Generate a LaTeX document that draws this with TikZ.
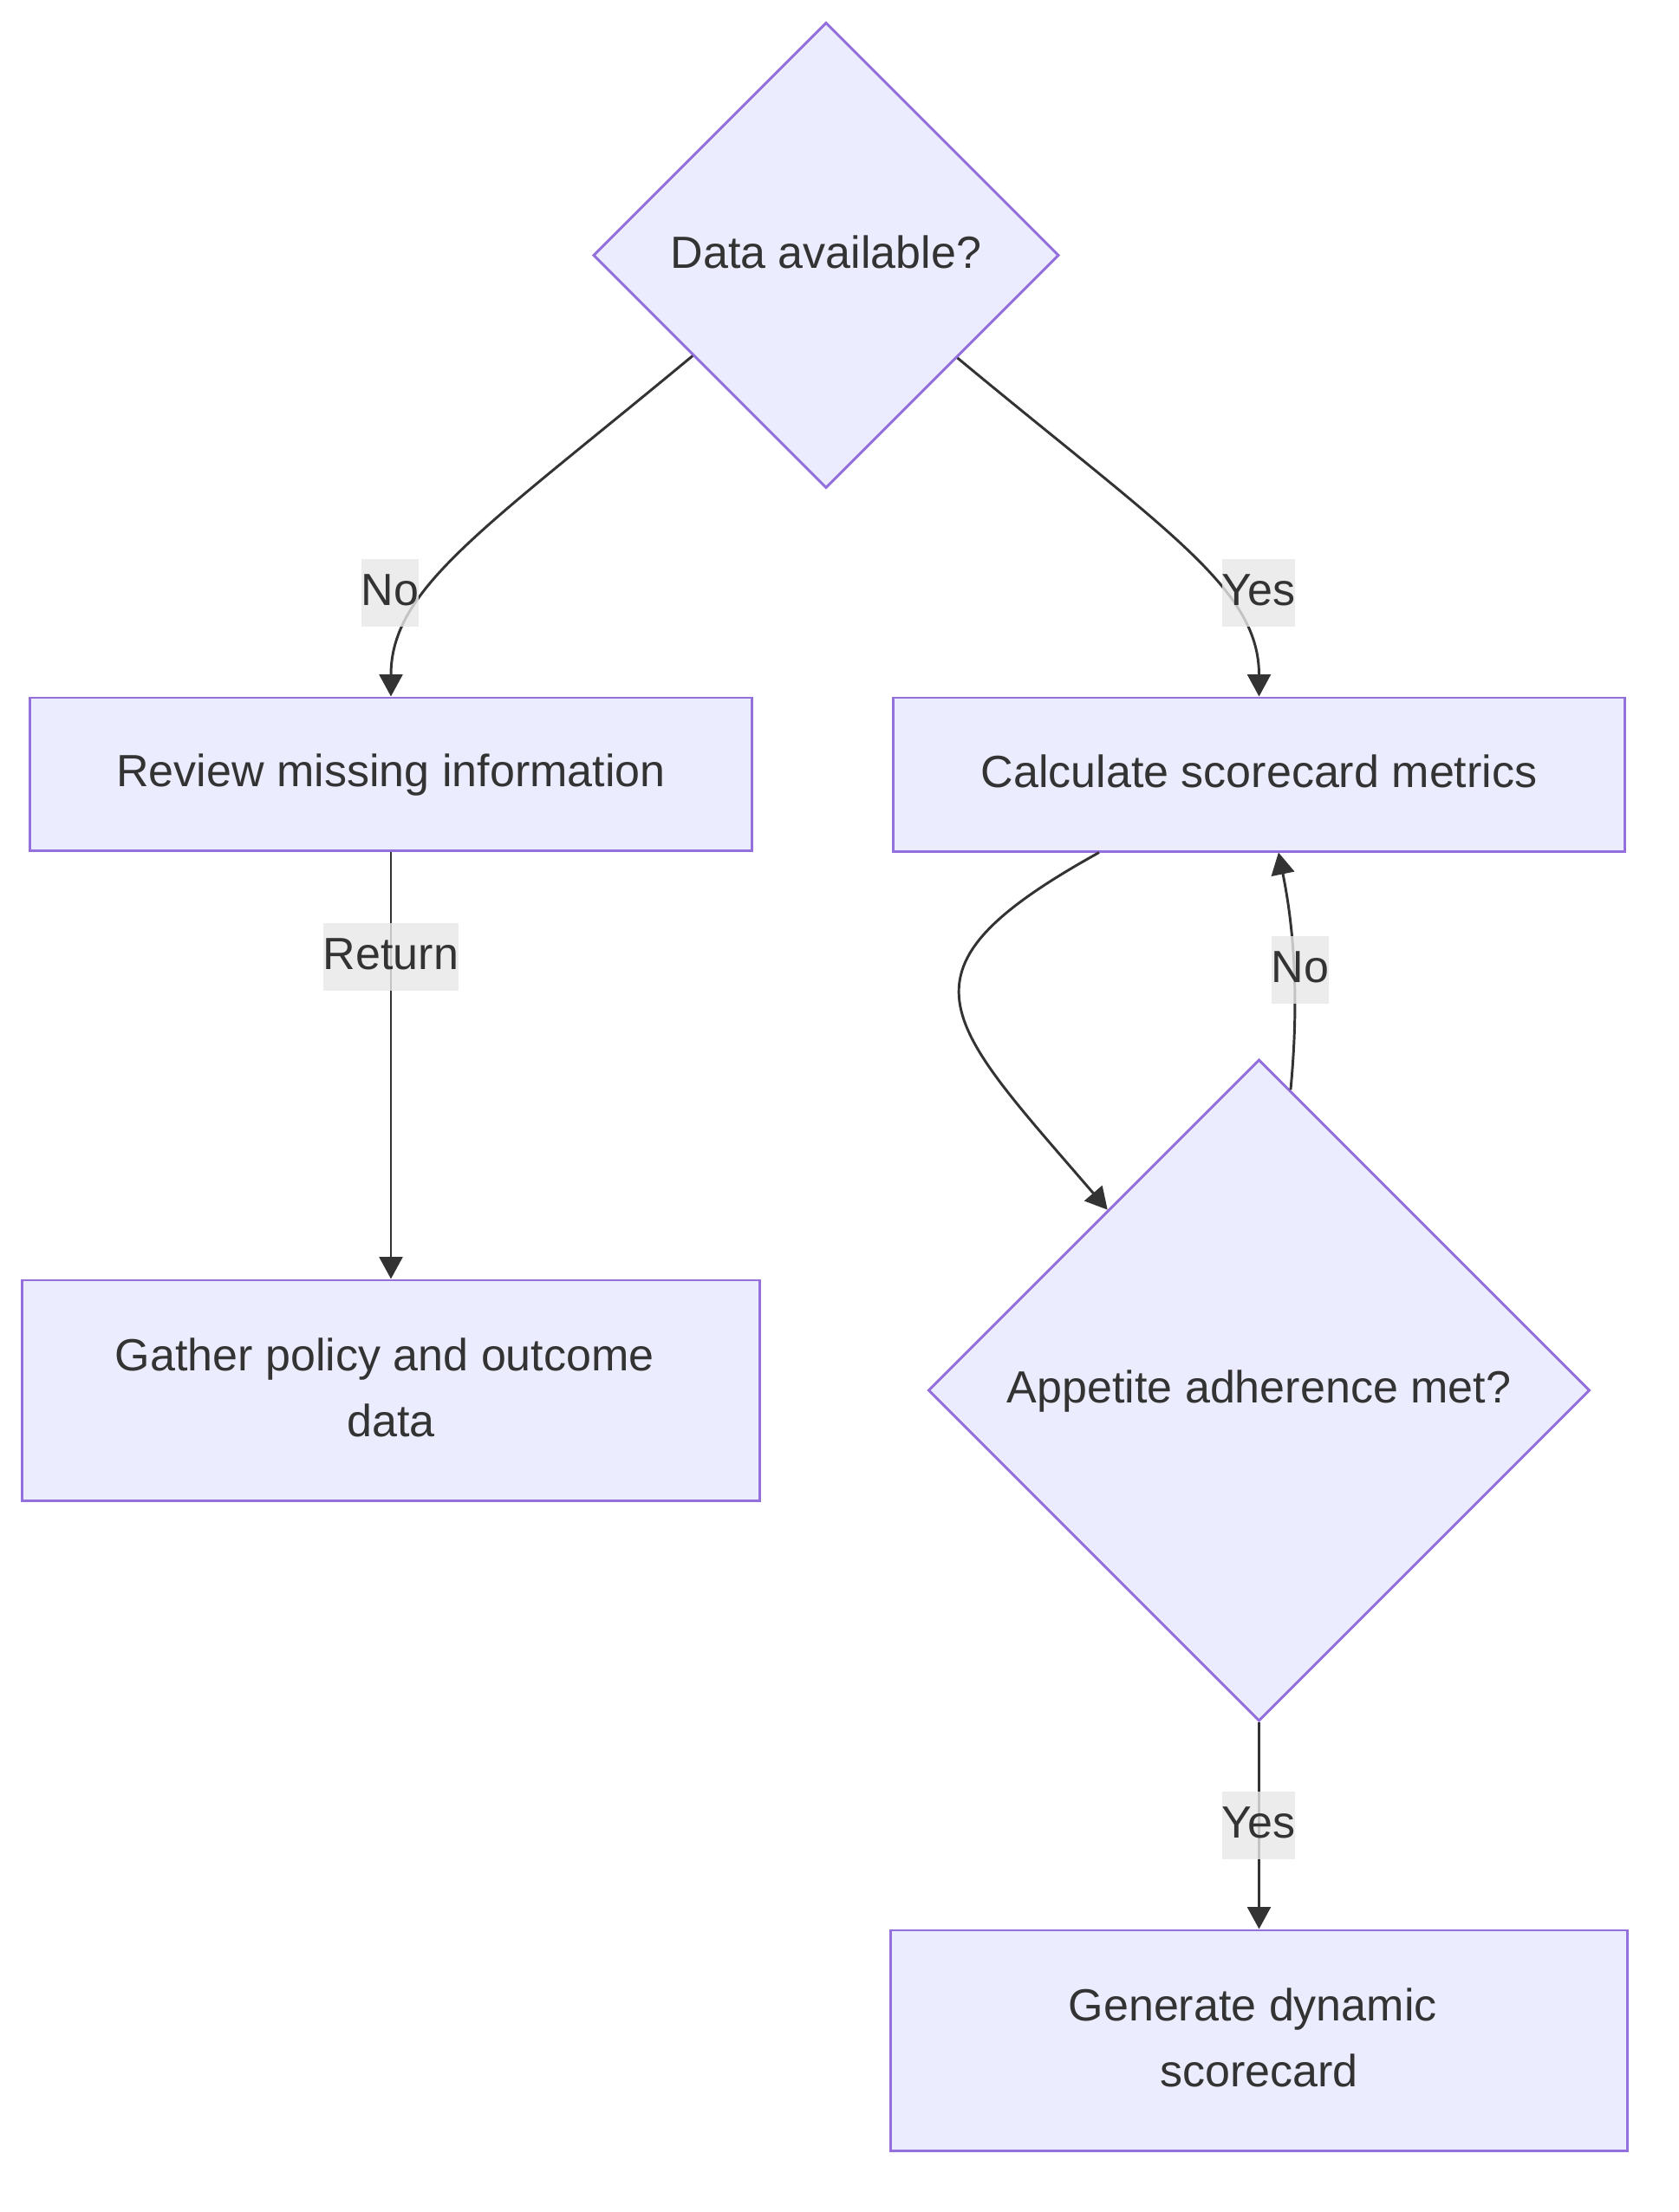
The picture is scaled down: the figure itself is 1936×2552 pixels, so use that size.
\documentclass[tikz,border=0pt]{standalone}
\usepackage{fontspec}
\setmainfont{Liberation Sans}
\usetikzlibrary{shapes.geometric,arrows.meta}
\definecolor{nodefill}{HTML}{ECECFF}
\definecolor{nodeline}{HTML}{9370DB}
\definecolor{edgecol}{HTML}{333333}
\definecolor{lblbg}{HTML}{E8E8E8}
\definecolor{txt}{HTML}{333333}
\begin{document}
\begin{tikzpicture}[x=0.025cm,y=-0.025cm,
  every node/.style={font=\fontsize{37pt}{54pt}\selectfont, text=txt},
  fixline/.style={text height=29.6pt, text depth=8.8pt},
  box/.style={draw=nodeline, fill=nodefill, line width=2.1pt, rectangle, inner sep=0pt, align=center},
  dia/.style={draw=nodeline, fill=nodefill, line width=2.1pt, diamond, aspect=1, inner sep=0pt, align=center, fixline},
  conn/.style={draw=edgecol, line width=2.1pt, -{Triangle[length=18pt,width=19pt]}},
  lbl/.style={fill=lblbg, fill opacity=0.8, text opacity=1, inner xsep=0pt, inner ysep=0pt, minimum height=55.5pt, fixline}
]
\useasboundingbox (0,0) rectangle (1936,2552);
\fill[white] (0,0) rectangle (1936,2552);

\node[dia, minimum width=13.425cm, minimum height=13.425cm] (d1) at (953,294.5) {Data available?};
\node[box, fixline, minimum width=20.825cm, minimum height=4.4cm] (rev) at (451,893) {Review missing information};
\node[box, fixline, minimum width=21.075cm, minimum height=4.425cm] (calc) at (1452.5,893.5) {Calculate scorecard metrics};
\node[box, minimum width=21.275cm, minimum height=6.35cm] (gat) at (451,1604) {\raisebox{1.5pt}{\begin{tabular}{@{}c@{}}Gather policy and outcome\kern.278em\\data\end{tabular}}};
\node[dia, minimum width=19.075cm, minimum height=19.075cm] (d2) at (1452.5,1604) {Appetite adherence met?};
\node[box, minimum width=21.25cm, minimum height=6.35cm] (gen) at (1452.5,2354) {\raisebox{1.5pt}{\begin{tabular}{@{}c@{}}Generate dynamic\kern.278em\\scorecard\end{tabular}}};

\draw[conn] (d1.217.8) .. controls +(-241,200) and +(0,-125) .. (rev.north);
\draw[conn] (d1.322.1) .. controls +(241,200) and +(0,-125) .. (calc.north);
\draw[conn] (rev.south) -- (gat.north);
\draw[conn] (calc.206.5) .. controls +(-247,137) and +(-190,-221) .. (d2.130.8);
\draw[conn] (d2.84.4) .. controls +(10,-105) and +(18,88) .. (calc.-76.3);
\draw[conn] (d2.south) -- (gen.north);

\node[lbl] (l1) at (450,684) {No};
\node[lbl] (l2) at (1452,684) {Yes};
\node[lbl] (l3) at (451,1104) {Return};
\node[lbl] (l4) at (1500,1119) {No};
\node[lbl] (l5) at (1452,2106) {Yes};
\end{tikzpicture}
\end{document}
